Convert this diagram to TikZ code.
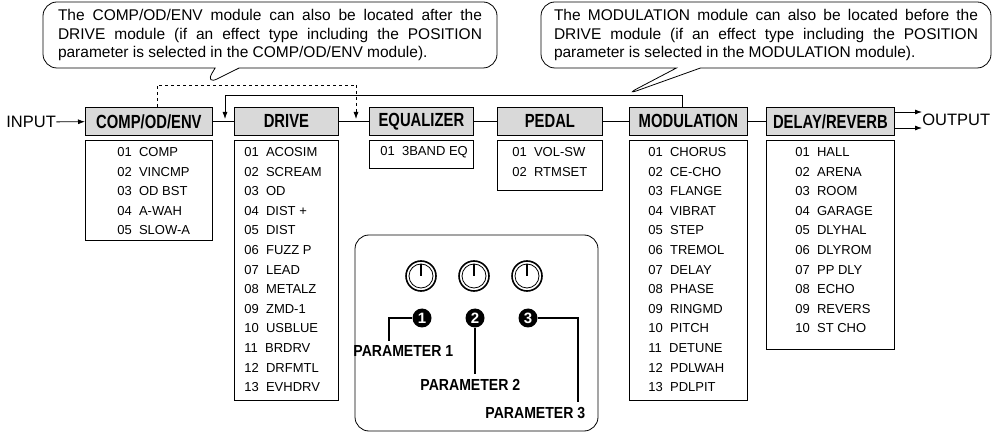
\documentclass[tikz,border=0pt]{standalone}
\usepackage{fontspec}
\setmainfont{Liberation Sans}
\usetikzlibrary{positioning,shapes.callouts,arrows.meta}
\newcommand{\jline}[1]{\hbox to 424pt{#1}}

\begin{document}
\begin{tikzpicture}[x=1pt,y=-1pt,line width=0.8pt,>={Latex[length=7pt,width=5pt]}]
    \tikzstyle{mhead}=[draw,fill=black!15,minimum height=28pt,inner sep=0pt,
        font=\fontsize{19}{19}\selectfont\bfseries,anchor=north west]
    \tikzstyle{mlist}=[draw,anchor=north west,inner sep=0pt]
    \tikzstyle{item}=[anchor=west,font=\fontsize{13}{13}\selectfont,inner sep=0pt]
    \tikzstyle{note}=[rectangle callout,draw,rounded corners=14pt,inner sep=0pt,
        callout pointer width=24pt,font=\fontsize{15.5}{18.5}\selectfont,align=left]
    \tikzstyle{plabel}=[inner sep=0pt,font=\fontsize{16}{16}\selectfont\bfseries]
    \useasboundingbox (0,0) rectangle (993,435);

    % module headers
    \node [mhead,minimum width=127pt] (comp) at (85,107) {\scalebox{0.78}[1]{COMP/OD/ENV}};
    \node [mhead,minimum width=104pt] (drive) at (234,107) {\scalebox{0.78}[1]{DRIVE}};
    \node [mhead,minimum width=104pt] (eq) at (369,107) {\scalebox{0.78}[1]{EQUALIZER}};
    \node [mhead,minimum width=105pt] (pedal) at (497,107) {\scalebox{0.78}[1]{PEDAL}};
    \node [mhead,minimum width=118pt] (mod) at (629,107) {\scalebox{0.78}[1]{MODULATION}};
    \node [mhead,minimum width=128pt] (delay) at (766,107) {\scalebox{0.78}[1]{DELAY/REVERB}};

    % type lists
    \node [mlist,minimum width=127pt,minimum height=100pt] (compl) at (85,140) {};
    \node [mlist,minimum width=104pt,minimum height=260pt] (drivel) at (234,140) {};
    \node [mlist,minimum width=104pt,minimum height=28pt] (eql) at (369,140) {};
    \node [mlist,minimum width=105pt,minimum height=50pt] (pedall) at (497,140) {};
    \node [mlist,minimum width=118pt,minimum height=260pt] (modl) at (629,140) {};
    \node [mlist,minimum width=128pt,minimum height=209pt] (delayl) at (766,140) {};

    \foreach \n/\t [count=\i] in {01/COMP,02/VINCMP,03/OD BST,04/A-WAH,05/SLOW-A}
        \node [item] at (117,132.4+19.6*\i) {\n\ \ \t};
    \foreach \n/\t [count=\i] in {01/ACOSIM,02/SCREAM,03/OD,04/DIST +,05/DIST,06/FUZZ P,07/LEAD,
        08/METALZ,09/ZMD-1,10/USBLUE,11/BRDRV,12/DRFMTL,13/EVHDRV}
        \node [item] at (244,132.4+19.6*\i) {\n\ \ \t};
    \node [item] at (380,152) {01\ \ 3BAND EQ};
    \foreach \n/\t [count=\i] in {01/VOL-SW,02/RTMSET}
        \node [item] at (512,132.4+19.6*\i) {\n\ \ \t};
    \foreach \n/\t [count=\i] in {01/CHORUS,02/CE-CHO,03/FLANGE,04/VIBRAT,05/STEP,06/TREMOL,07/DELAY,
        08/PHASE,09/RINGMD,10/PITCH,11/DETUNE,12/PDLWAH,13/PDLPIT}
        \node [item] at (648,132.4+19.6*\i) {\n\ \ \t};
    \foreach \n/\t [count=\i] in {01/HALL,02/ARENA,03/ROOM,04/GARAGE,05/DLYHAL,06/DLYROM,07/PP DLY,
        08/ECHO,09/REVERS,10/ST CHO}
        \node [item] at (795,132.4+19.6*\i) {\n\ \ \t};

    % signal chain
    \node [anchor=west,inner sep=0pt,font=\fontsize{16.5}{16.5}\selectfont] (in) at (6,122) {INPUT};
    \node [anchor=west,inner sep=0pt,font=\fontsize{16.5}{16.5}\selectfont] (out) at (922,120) {OUTPUT};
    \draw [->] (in) -- (comp);
    \draw (comp) -- (drive);
    \draw (drive) -- (eq);
    \draw (eq) -- (pedal);
    \draw (pedal) -- (mod);
    \draw (mod) -- (delay);
    \draw [->] (delay.east |- 0,112) -- (out.west |- 0,112);
    \draw [->] (delay.east |- 0,128) -- (out.west |- 0,128);

    % alternative positions
    \coordinate (dtip) at (205,85);
    \coordinate (mtip) at (625,95);
    \draw [dashed] (comp.north -| 157,0) -- (157,85) -- (356,85);
    \draw [dashed,->] (356,85) -- (356,119);
    \draw [->] (mod.north -| 682,0) -- (682,95) -- (225,95) -- (225,119);

    \node [note,minimum width=454pt,minimum height=66pt,callout absolute pointer=(dtip)] (note1) at (270,35)
        {\jline{The COMP/OD/ENV module can also be located after the}\\
         \jline{DRIVE module (if an effect type including the POSITION}\\
         parameter is selected in the COMP/OD/ENV module).};
    \node [note,minimum width=450pt,minimum height=66pt,callout absolute pointer=(mtip)] (note2) at (766,35)
        {\jline{The MODULATION module can also be located before the}\\
         \jline{DRIVE module (if an effect type including the POSITION}\\
         parameter is selected in the MODULATION module).};

    % knobs panel
    \draw [rounded corners=14pt] (355,235) rectangle (598,431);
    \foreach \x/\n in {421/1,474/2,527/3} {
        \draw [line width=1.6pt] (\x,276) circle (15);
        \draw (\x,276) circle (12);
        \draw [line width=1.4pt] (\x,264) -- (\x,276);
        \node [circle,fill=black,inner sep=0pt,minimum size=19pt,text=white,
            font=\fontsize{15}{15}\selectfont\bfseries] (p\n) at (\x+1,318) {\n};
    }
    \node [plabel,anchor=west] (l1) at (353,351) {\scalebox{0.88}[1]{PARAMETER 1}};
    \node [plabel,anchor=west] (l2) at (420,385) {\scalebox{0.88}[1]{PARAMETER 2}};
    \node [plabel,anchor=west] (l3) at (485,413) {\scalebox{0.88}[1]{PARAMETER 3}};
    \draw [line width=1.5pt] (p1) -- (389,318) -- (389,341);
    \draw [line width=1.5pt] (p2) -- (p2 |- 0,374);
    \draw [line width=1.5pt] (p3) -- (578,318) -- (578,402);
\end{tikzpicture}
\end{document}
